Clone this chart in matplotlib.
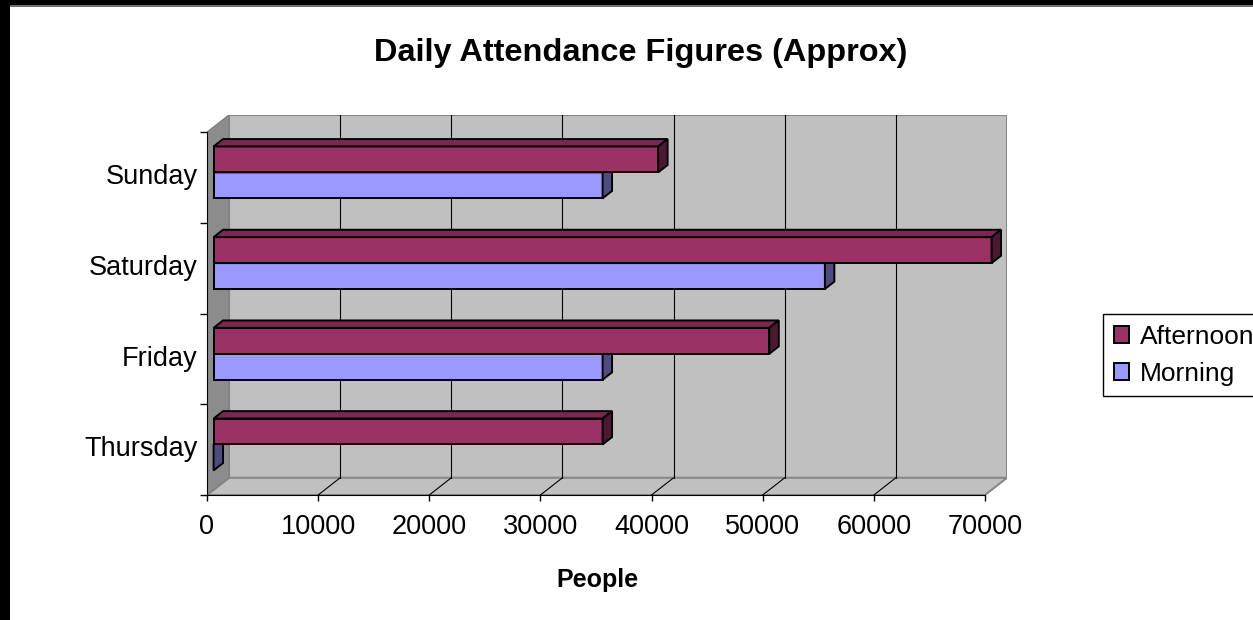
import matplotlib
matplotlib.use('Agg')
import matplotlib.pyplot as plt
from matplotlib.patches import Polygon, Patch, Rectangle
import numpy as np

plt.rcParams['font.family'] = ['Liberation Sans', 'DejaVu Sans']

# data
days = ['Thursday', 'Friday', 'Saturday', 'Sunday']
morning = [0, 35000, 55000, 35000]
afternoon = [35000, 50000, 70000, 40000]
series = ['Afternoon', 'Morning']
xticks = [0, 10000, 20000, 30000, 40000, 50000, 60000, 70000]

# colours: front, top, side
c_aft = ('#993366', '#7a2852', '#4c1933')
c_morn = ('#9999ff', '#7a7acc', '#4c4c80')

# oblique "3d" depth, in data units
DX = 1980.0   # full depth along x
DY = 0.19     # full depth along y (category units)
d0, d1 = 0.30, 0.73  # depth range of the bars
bh = 0.286           # bar height in category units


def bar3d(ax, v, y0, y1, cols):
	ox, oy = d0*DX, d0*DY
	bx, by = (d1-d0)*DX, (d1-d0)*DY
	front = [(ox, y0+oy), (ox+v, y0+oy), (ox+v, y1+oy), (ox, y1+oy)]
	top = [(ox, y1+oy), (ox+v, y1+oy), (ox+v+bx, y1+oy+by), (ox+bx, y1+oy+by)]
	side = [(ox+v, y0+oy), (ox+v+bx, y0+oy+by), (ox+v+bx, y1+oy+by), (ox+v, y1+oy)]
	for pts, c in zip([front, top, side], cols):
		ax.add_patch(Polygon(pts, closed=True, fc=c, ec='black', lw=1.4, joinstyle='miter', zorder=3))


fig = plt.figure(figsize=(12.53, 6.2), dpi=100)
ax = fig.add_axes([207/1253, 125/620, 800/1253, 380/620])
xmax = xticks[-1]
ylo, yhi = -0.5, len(days)-0.5
ax.set_xlim(0, xmax+DX)
ax.set_ylim(ylo, yhi+DY)
ax.patch.set_visible(False)

# walls and floor
back = [(DX, ylo+DY), (xmax+DX, ylo+DY), (xmax+DX, yhi+DY), (DX, yhi+DY)]
side = [(0, ylo), (DX, ylo+DY), (DX, yhi+DY), (0, yhi)]
floor = [(0, ylo), (xmax, ylo), (xmax+DX, ylo+DY), (DX, ylo+DY)]
ax.add_patch(Polygon(back, fc='#c0c0c0', ec='#888888', lw=1.5, zorder=1))
ax.add_patch(Polygon(floor, fc='#c0c0c0', ec='#888888', lw=1.5, zorder=1))
ax.add_patch(Polygon(side, fc='#8c8c8c', ec='#808080', lw=1, zorder=1))

# gridlines on back wall and floor
for t in xticks[1:-1]:
	ax.plot([t+DX, t+DX], [ylo+DY, yhi+DY], c='black', lw=0.8, zorder=1.5)
	ax.plot([t, t+DX], [ylo, ylo+DY], c='black', lw=0.8, zorder=1.5)

# bars
for i, d in enumerate(days):
	bar3d(ax, morning[i], i-bh, i, c_morn)
	bar3d(ax, afternoon[i], i, i+bh, c_aft)

# axes
for s in ['top', 'right']:
	ax.spines[s].set_visible(False)
ax.spines['left'].set_bounds(ylo, yhi)
ax.spines['bottom'].set_bounds(0, xmax)
ax.set_xticks(xticks)
ax.set_xticklabels([str(t) for t in xticks])
ax.tick_params(axis='x', length=4.5, width=1, pad=9, labelsize=19.5)
ax.set_yticks(np.arange(ylo, yhi+0.1, 1.0))
ax.tick_params(axis='y', which='major', length=5, width=1, labelleft=False)
# labels sit a little above the category centre, as in the bar depth plane
ax.set_yticks(np.arange(len(days))+0.035, minor=True)
ax.set_yticklabels(days, minor=True)
ax.tick_params(axis='y', which='minor', length=0, pad=6.5, labelsize=19.5)

fig.text(641/1253, 1-53/620, 'Daily Attendance Figures (Approx)', ha='center', va='center',
	fontsize=23.4, fontweight='bold')
fig.text(597/1253, 1-580/620, 'People', ha='center', va='center', fontsize=18, fontweight='bold')

handles = [Patch(fc=c_aft[0], ec='black', lw=1.4), Patch(fc=c_morn[0], ec='black', lw=1.4)]
leg = fig.legend(handles, series, loc='upper left', bbox_to_anchor=(1103/1253, 1-314/620),
	fontsize=19, handlelength=0.6, handleheight=0.6, handletextpad=0.4, borderpad=0.4,
	labelspacing=0.5, fancybox=False, framealpha=1, edgecolor='black', borderaxespad=0)
leg.get_frame().set_linewidth(1)

# black frame of the screenshot
fig.patches.append(Rectangle((0, 0), 10/1253, 1, transform=fig.transFigure, fc='black', ec='none'))
fig.patches.append(Rectangle((0, 1-5/620), 1, 5/620, transform=fig.transFigure, fc='black', ec='none'))
fig.patches.append(Rectangle((10/1253, 1-6.5/620), 1, 1.5/620, transform=fig.transFigure, fc='#707070', ec='none'))

fig.savefig('out.png', dpi=100)
plt.close()
